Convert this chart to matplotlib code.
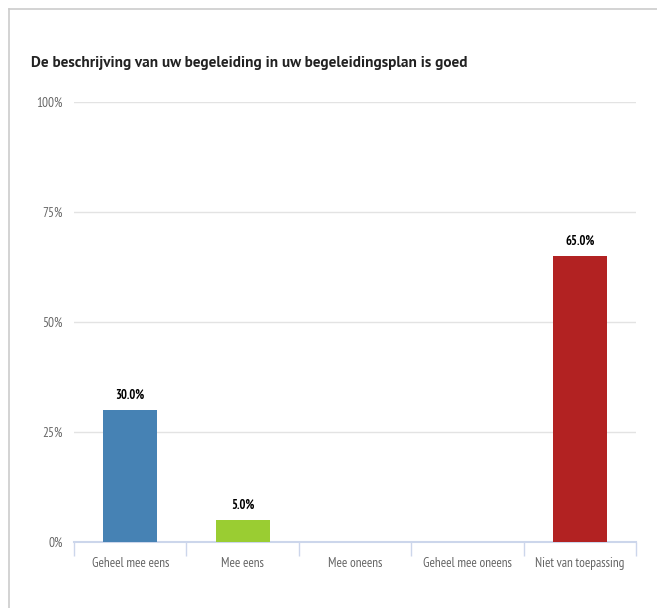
import matplotlib.pyplot as plt
from matplotlib.ticker import FixedLocator, FuncFormatter

categories = ["Geheel mee eens", "Mee eens", "Mee oneens", "Geheel mee oneens", "Niet van toepassing"]
percentages = [30.0, 5.0, 0.0, 0.0, 65.0]
bar_colors = ["steelblue", "yellowgreen", "steelblue", "steelblue", "firebrick"]
y_ticks = [0, 25, 50, 75, 100]

title = "De beschrijving van uw begeleiding in uw begeleidingsplan is goed"

plt.rcParams["font.family"] = ["PT Sans Narrow", "Roboto Condensed", "Liberation Sans", "DejaVu Sans"]

fig = plt.figure(figsize=(6.57, 6.08), dpi=100)

# light frame on top and left edge
fig.add_artist(plt.Line2D([9 / 657, 1], [1 - 9 / 608, 1 - 9 / 608], color="#cccccc", lw=1.2))
fig.add_artist(plt.Line2D([9 / 657, 9 / 657], [0, 1 - 9 / 608], color="#cccccc", lw=1.2))

ax = fig.add_axes([74 / 657, 1 - 542 / 608, (636 - 74) / 657, (542 - 102) / 608])

x = range(len(categories))
ax.bar(x, percentages, width=0.48, color=bar_colors, zorder=3)

for i, v in enumerate(percentages):
    if v > 0:
        ax.annotate(f"{v:.1f}%", (i, v), xytext=(0, 6), textcoords="offset points",
                    ha="center", va="bottom", fontsize=9, fontweight="bold", color="black")

ax.set_xlim(-0.5, len(categories) - 0.5)
ax.set_ylim(0, 100)

ax.set_yticks(y_ticks)
ax.yaxis.set_major_formatter(FuncFormatter(lambda v, _: f"{v:.0f}%"))
ax.tick_params(axis="y", length=0, pad=8, labelsize=9.5, labelcolor="#666666")
ax.grid(axis="y", color="#e3e3e3", lw=1, zorder=0)

# category ticks sit on the boundaries, labels in the middle
ax.xaxis.set_major_locator(FixedLocator([i - 0.5 for i in range(len(categories) + 1)]))
ax.xaxis.set_major_formatter(FuncFormatter(lambda v, _: ""))
ax.xaxis.set_minor_locator(FixedLocator(list(x)))
ax.set_xticklabels(categories, minor=True)
ax.tick_params(axis="x", which="major", length=10, width=1, color="#ccd6eb")
ax.tick_params(axis="x", which="minor", length=0, pad=11, labelsize=9.5, labelcolor="#666666")

for side in ["top", "right", "left"]:
    ax.spines[side].set_visible(False)
ax.spines["bottom"].set_color("#ccd6eb")
ax.spines["bottom"].set_linewidth(1.5)

fig.text(31 / 657, 1 - 63 / 608, title, fontsize=11, fontweight="bold", color="#222222",
         ha="left", va="center", family=["PT Sans", "Liberation Sans", "DejaVu Sans"])

fig.savefig("out.png", dpi=100)
